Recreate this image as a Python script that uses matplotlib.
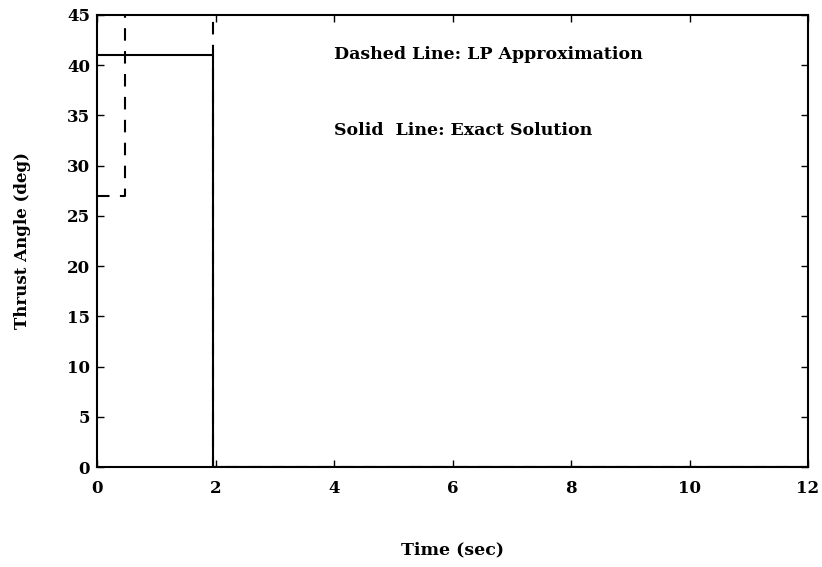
import numpy as np
import matplotlib.pyplot as plt

# Exakt løsning (heltrukken) og LP-approksimasjon (stiplet)
t_exact = [0, 1.95, 1.95, 12]
theta_exact = [41, 41, 0, 0]

t_lp = [0, 0.48, 0.48, 1.95, 1.95, 12]
theta_lp = [27, 27, 50, 50, 0, 0]

xticks = [0, 2, 4, 6, 8, 10, 12]
yticks = [0, 5, 10, 15, 20, 25, 30, 35, 40, 45]

plt.rcParams['font.family'] = ['DejaVu Serif']
plt.rcParams['font.weight'] = 'bold'

fig = plt.figure(figsize=(8.22, 5.67), dpi=100)
ax = fig.add_axes([0.118, 0.176, 0.865, 0.798])

ax.plot(t_exact, theta_exact, "-k", lw=1.5)
ax.plot(t_lp, theta_lp, "--k", lw=1.5, dashes=(6, 5))

ax.set_xlim(0, 12)
ax.set_ylim(0, 45)
ax.set_xticks(xticks)
ax.set_yticks(yticks)
ax.tick_params(direction='in', length=5, width=1, top=True, right=True,
               labelsize=12)
ax.tick_params(axis='x', pad=9)
ax.tick_params(axis='y', pad=5)
for lbl in ax.get_xticklabels() + ax.get_yticklabels():
    lbl.set_fontweight('bold')
for s in ax.spines.values():
    s.set_linewidth(1.5)

ax.set_xlabel("Time (sec)", fontsize=12.5, fontweight='bold', labelpad=32)
ax.set_ylabel("Thrust Angle (deg)", fontsize=12, fontweight='bold', labelpad=26)

ax.text(4.0, 41, "Dashed Line: LP Approximation", fontsize=12.5,
        fontweight='bold', va='center')
ax.text(4.0, 33.5, "Solid  Line: Exact Solution", fontsize=12.5,
        fontweight='bold', va='center')

fig.savefig("out.png", dpi=100)
